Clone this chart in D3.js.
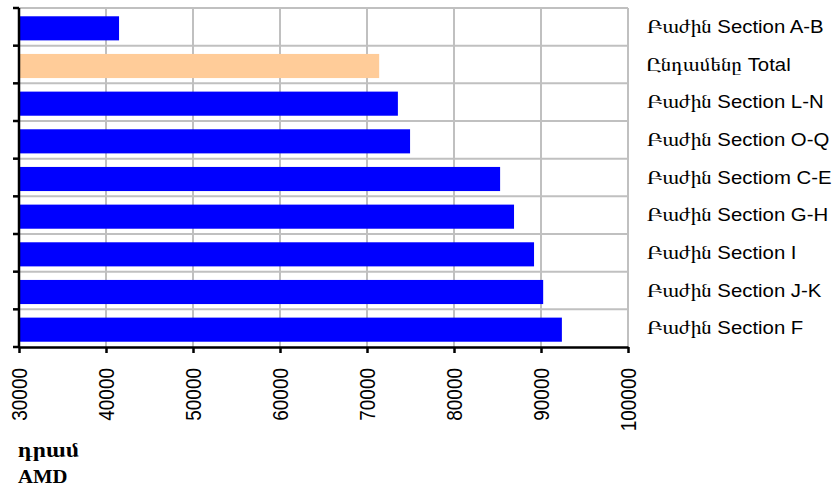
<!DOCTYPE html>
<html>
<head>
<meta charset="utf-8">
<script src="https://cdn.jsdelivr.net/npm/d3@7"></script>
<style>
  body { margin: 0; background: #fff; }
  svg text { font-family: "Liberation Sans", Arial, FreeSerif, "DejaVu Serif", sans-serif; }
  .arm { font-family: FreeSerif, "DejaVu Serif", serif; }
</style>
</head>
<body>
<div id="chart"></div>
<script>
// chart data, top to bottom
var categories = ['Բաժին Section A-B', 'Ընդամենը Total', 'Բաժին Section L-N', 'Բաժին Section O-Q',
                  'Բաժին Sectiom C-E', 'Բաժին Section G-H', 'Բաժին Section I', 'Բաժին Section J-K', 'Բաժին Section F'];
var values = [41500, 71400, 73550, 74950, 85300, 86900, 89200, 90250, 92400];
var highlight = ['Ընդամենը Total'];
var x_ticks = [30000, 40000, 50000, 60000, 70000, 80000, 90000, 100000];
var unit_labels = ['դրամ', 'AMD'];

function draw_chart() {
    var chart_width = 838, chart_height = 489;
    var plot_left = 19, plot_right = 628, plot_top = 8, plot_bottom = 347;
    var stretch = 1.15; // text in the picture is a bit wider than tall

    var svg = d3.select('#chart').append('svg')
        .attr('width', chart_width)
        .attr('height', chart_height);

    var x_scale = d3.scaleLinear().domain([30000, 100000]).range([plot_left, plot_right]);
    var y_scale = d3.scaleBand().domain(categories).range([plot_top, plot_bottom])
        .paddingInner(0.36).paddingOuter(0.18);
    var y_edges = d3.scaleLinear().domain([0, categories.length]).range([plot_top, plot_bottom]);

// grid
    svg.append('g').selectAll('line')
        .data(x_ticks.slice(1))
        .enter().append('line')
        .attr('x1', function(d) { return x_scale(d); })
        .attr('x2', function(d) { return x_scale(d); })
        .attr('y1', plot_top).attr('y2', plot_bottom)
        .attr('stroke', '#c0c0c0').attr('stroke-width', 2);

    svg.append('g').selectAll('line')
        .data(d3.range(categories.length))
        .enter().append('line')
        .attr('x1', plot_left).attr('x2', plot_right)
        .attr('y1', function(d) { return y_edges(d); })
        .attr('y2', function(d) { return y_edges(d); })
        .attr('stroke', '#c0c0c0').attr('stroke-width', 2);

// bars
    svg.append('g').selectAll('rect')
        .data(categories)
        .enter().append('rect')
        .attr('x', x_scale(30000))
        .attr('y', function(d) { return y_scale(d) + 1.5; })
        .attr('height', y_scale.bandwidth())
        .attr('width', function(d, i) { return x_scale(values[i]) - x_scale(30000); })
        .attr('fill', function(d) { return highlight.indexOf(d) >= 0 ? '#ffcc99' : '#0000ff'; });

// x axis
    var x_axis = svg.append('g')
        .attr('transform', 'translate(0,' + plot_bottom + ')')
        .call(d3.axisBottom(x_scale).tickValues(x_ticks).tickSize(6).tickSizeOuter(0).tickFormat(d3.format('d')));
    x_axis.select('.domain').attr('stroke', '#000').attr('stroke-width', 2.5);
    x_axis.selectAll('.tick line').attr('stroke', '#000').attr('stroke-width', 2.5);
    x_axis.selectAll('.tick text')
        .attr('transform', 'scale(' + (stretch + 0.05) + ',1) rotate(-90)')
        .attr('text-anchor', 'end')
        .attr('x', -21).attr('y', 0).attr('dy', '0.35em')
        .style('font-size', '19px')
        .style('font-family', '"Liberation Sans", Arial, sans-serif')
        .attr('fill', '#000');

// y axis, ticks sit on the band edges
    var y_axis = svg.append('g');
    y_axis.append('line')
        .attr('x1', plot_left).attr('x2', plot_left)
        .attr('y1', plot_top).attr('y2', plot_bottom)
        .attr('stroke', '#000').attr('stroke-width', 2.5);
    y_axis.selectAll('.edge')
        .data(d3.range(categories.length + 1))
        .enter().append('line')
        .attr('class', 'edge')
        .attr('x1', plot_left - 6).attr('x2', plot_left)
        .attr('y1', function(d) { return y_edges(d); })
        .attr('y2', function(d) { return y_edges(d); })
        .attr('stroke', '#000').attr('stroke-width', 2.5);

// category labels on the right: armenian word + english part
    var labels = svg.append('g').selectAll('text')
        .data(categories)
        .enter().append('text')
        .attr('transform', function(d) {
            return 'translate(647,' + (y_edges(categories.indexOf(d)) + y_scale.step() / 2 + 6) + ') scale(1.1,1)';
        })
        .style('font-size', '18.5px')
        .attr('fill', '#000');
    labels.append('tspan')
        .attr('class', 'arm')
        .style('font-size', '19.5px')
        .text(function(d) { return d.slice(0, d.indexOf(' ')); });
    labels.append('tspan')
        .text(function(d) { return d.slice(d.indexOf(' ')); });

// unit label
    svg.append('g').selectAll('text')
        .data(unit_labels)
        .enter().append('text')
        .attr('transform', function(d, i) { return 'translate(18,' + (457 + i * 26) + ') scale(' + stretch + ',1)'; })
        .style('font-family', '"Liberation Serif", "Times New Roman", FreeSerif, serif')
        .style('font-weight', 'bold')
        .style('font-size', function(d, i) { return i == 0 ? '21px' : '18px'; })
        .text(function(d) { return d; });
}

draw_chart();
</script>
</body>
</html>
